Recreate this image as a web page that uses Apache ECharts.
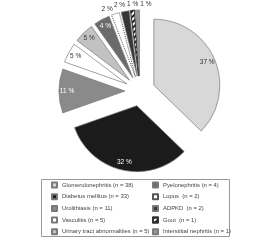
<!DOCTYPE html>
<html>
<head>
<meta charset="utf-8">
<script src="https://cdn.jsdelivr.net/npm/echarts@6/dist/echarts.min.js"></script>
<style>
html,body{margin:0;padding:0;background:#fff;}
#c{width:280px;height:240px;}
</style>
</head>
<body>
<div id="c"></div>
<script>
// ---- data ----
const categories = [
  'Glomerulonephritis (n = 38)',
  'Diabetus mellitus (n = 33)',
  'Urolithiasis (n = 11)',
  'Vasculitis (n = 5)',
  'Urinary tract abnormalities (n = 5)',
  'Pyelonephritis (n = 4)',
  'Lupus  (n = 2)',
  'ADPKD  (n = 2)',
  'Gout  (n = 1)',
  'Interstitial nephritis (n = 1)'
];
const counts = [38, 33, 11, 5, 5, 4, 2, 2, 1, 1];
const legendColumn1 = categories.slice(0, 5);
const legendColumn2 = categories.slice(5);

// ---- styles ----
const fills = ['#d8d8d8', '#1b1b1b', '#8a8a8a', '#ffffff', '#c2c2c2', '#6b6b6b', '#ffffff', '#363636', '#ffffff', '#9a9a9a'];
const labelColors = ['#333', '#fff', '#fff', '#333', '#333', '#fff'];
const outerNudge = {6: [-6.5, 1], 7: [-4.5, -0.3], 8: [0.7, -0.3], 9: [8.6, 0.5]};
const FONT = '"Liberation Sans Narrow", "Liberation Sans", Arial, sans-serif';
const CENTER = [140, 91];
const R = 66;
const OFF = 15;

function itemStyleFor(i) {
  const s = {color: fills[i], borderColor: '#7a7a7a', borderWidth: 0.7};
  if (i === 6) { s.borderType = 'dotted'; s.borderColor = '#555'; s.borderWidth = 1; }
  if (i === 8) {
    s.decal = {symbol: 'rect', symbolSize: 1, dashArrayX: [1, 0], dashArrayY: [1.2, 1.5], rotation: -Math.PI / 4, color: '#222'};
    s.borderColor = '#333';
  }
  return s;
}

const mainData = categories.map((n, i) => ({
  name: n, value: counts[i], selected: true, itemStyle: itemStyleFor(i)
}));

const innerLabelData = categories.map((n, i) => ({
  name: n, value: counts[i], selected: true,
  itemStyle: {color: 'rgba(0,0,0,0)', borderWidth: 0},
  label: {show: i < 6, color: labelColors[i] || '#333'}
}));

const outerLabelData = categories.map((n, i) => ({
  name: n, value: counts[i], selected: true,
  itemStyle: {color: 'rgba(0,0,0,0)', borderWidth: 0},
  label: {show: i >= 6, color: '#333'}
}));

const common = {
  type: 'pie', center: CENTER, startAngle: 90, clockwise: true,
  selectedMode: 'multiple', selectedOffset: OFF, percentPrecision: 0,
  avoidLabelOverlap: false, animation: false, emphasis: {disabled: true},
  labelLine: {show: false}
};

const legendBase = {
  orient: 'vertical', top: 181, padding: 0, itemWidth: 5, itemHeight: 5, itemGap: 3.7,
  icon: 'rect', selectedMode: false,
  textStyle: {fontSize: 5.9, lineHeight: 8, color: '#444', fontFamily: FONT}
};

const chart = echarts.init(document.getElementById('c'), null, {renderer: 'canvas'});
chart.setOption({
  backgroundColor: '#fff',
  animation: false,
  aria: {enabled: false},
  legend: [
    Object.assign({}, legendBase, {data: legendColumn1, left: 51}),
    Object.assign({}, legendBase, {data: legendColumn2, left: 152})
  ],
  graphic: [{type: 'rect', shape: {x: 41.5, y: 179.5, width: 188, height: 57},
             style: {fill: 'none', stroke: '#999', lineWidth: 1}, silent: true}],
  series: [
    Object.assign({}, common, {name: 'main', radius: R, data: mainData, label: {show: false}}),
    Object.assign({}, common, {name: 'inner', radius: [45, 65], silent: true, data: innerLabelData,
      label: {position: 'inside', formatter: '{d} %', fontSize: 6.5, fontFamily: FONT}}),
    Object.assign({}, common, {name: 'outer', radius: [R, R + 6], silent: true, data: outerLabelData,
      label: {position: 'inside', formatter: '{d} %', fontSize: 6.5, fontFamily: FONT},
      labelLayout: function (p) {
        const n = outerNudge[p.dataIndex] || [0, 0];
        return {dx: n[0], dy: n[1]};
      }})
  ]
});
</script>
</body>
</html>
